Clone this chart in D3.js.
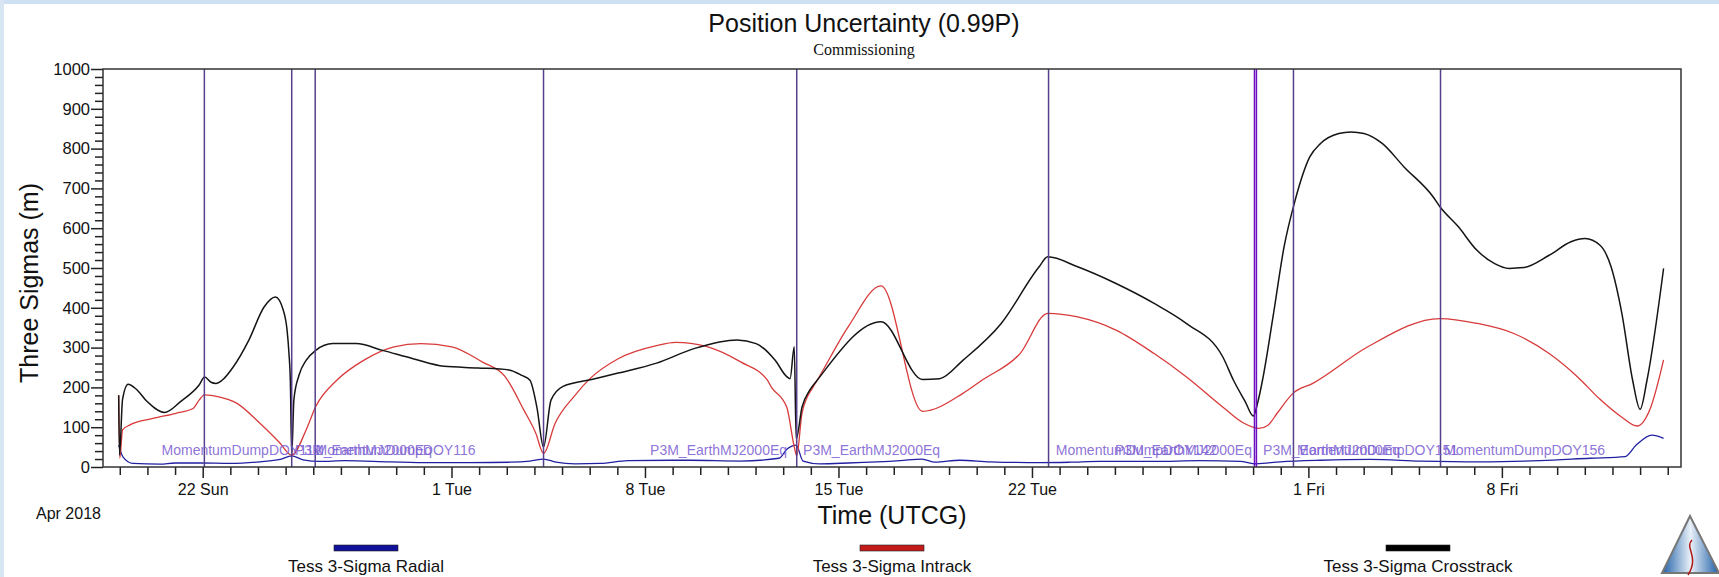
<!DOCTYPE html>
<html><head><meta charset="utf-8">
<script src="https://cdn.jsdelivr.net/npm/d3@7"></script>
<style>body{margin:0;background:#fff;overflow:hidden} svg{display:block}</style>
</head><body><svg id="c" width="1719" height="577"></svg>
<script>
// ---------------- DATA ----------------
// time = fractional day of April 2018 (31 = 1 May, 62 = 1 Jun)
const seriesNames = ["Tess 3-Sigma Radial", "Tess 3-Sigma Intrack", "Tess 3-Sigma Crosstrack"];

const radial = [
 [18.96,55],[19.12,25],[19.48,9],[20.46,7],[21.00,10],[21.90,10],[22.99,9],[24.07,13],[24.80,19],
 [25.22,28],[25.63,18],[26.24,14],[27.15,16],[28.78,13],[30.23,11],[31.67,11],[33.12,12],[33.84,15],
 [34.33,20],[34.78,12],[35.47,8],[36.38,9],[37.39,16],[39.63,17],[41.44,15],[42.85,22],[43.14,45],
 [43.47,55],[43.72,15],[44.33,8],[45.35,10],[47.23,16],[48.02,20],[48.49,12],[49.39,17],[50.48,13],
 [52.29,11],[53.37,12],[54.46,14],[56.42,14],[58.08,16],[59.53,14],[60.11,8],[60.98,13],[62.43,17],
 [64.24,19],[66.05,15],[68.22,13],[70.38,16],[72.19,22],[73.46,26],[73.86,55],[74.43,80],[74.85,72]
];

const intrack = [
 [18.96,180],[19.00,22],[19.10,93],[19.37,106],[20.20,122],[21.03,135],[21.65,147],[21.87,168],
 [22.07,181],[22.55,177],[23.24,160],[24.07,110],[24.76,63],[25.22,30],[25.74,93],[26.09,152],
 [26.85,218],[27.82,268],[28.92,302],[29.90,310],[31.01,302],[32.11,264],[32.94,227],[33.62,143],
 [34.05,85],[34.33,34],[34.75,110],[35.43,177],[36.01,222],[37.03,272],[38.42,305],[39.11,313],
 [40.21,303],[41.46,264],[42.43,218],[42.56,202],[43.13,150],[43.40,51],[43.49,28],[43.68,135],
 [44.09,202],[44.23,218],[45.35,352],[46.54,455],[48.04,140],[49.50,185],[50.19,218],[51.57,285],
 [52.57,386],[53.65,377],[55.04,344],[56.42,285],[57.58,227],[58.90,151],[59.67,110],[60.21,97],
 [60.54,105],[60.87,135],[61.44,185],[62.16,210],[64.15,302],[66.76,373],[68.09,361],[69.41,336],
 [70.71,285],[71.76,225],[72.55,170],[73.34,125],[73.89,103],[74.39,151],[74.85,269]
];

const crosstrack = [
 [18.96,180],[18.99,30],[19.10,170],[19.30,208],[19.59,196],[19.98,165],[20.62,137],[21.21,165],
 [21.87,206],[22.07,226],[22.30,213],[22.48,210],[22.70,218],[23.11,252],[23.67,319],[24.22,402],
 [24.63,427],[24.91,395],[25.05,345],[25.12,286],[25.17,218],[25.22,30],[25.30,170],[25.48,230],
 [25.74,268],[26.09,293],[26.71,310],[27.55,310],[28.51,293],[29.61,272],[30.73,253],[31.96,249],
 [33.08,244],[33.55,230],[33.84,218],[34.09,150],[34.33,50],[34.60,168],[35.02,202],[36.07,220],
 [37.03,236],[38.42,261],[39.80,298],[41.33,319],[42.02,310],[42.71,268],[43.13,227],[43.25,222],
 [43.40,302],[43.47,70],[43.68,150],[43.96,193],[44.23,218],[46.54,365],[48.04,220],[48.66,222],
 [49.50,268],[50.88,360],[52.26,503],[52.57,528],[53.65,503],[55.04,461],[56.42,411],[57.58,361],
 [58.90,277],[59.29,218],[59.71,165],[60.01,128],[60.16,160],[60.34,218],[60.74,386],[61.12,553],
 [61.52,670],[62.05,779],[62.44,813],[63.10,838],[63.54,842],[64.01,838],[64.67,813],[65.46,754],
 [66.51,679],[66.76,654],[67.42,604],[68.09,545],[68.74,511],[69.26,499],[69.79,501],[70.71,532],
 [71.50,566],[72.01,574],[72.55,557],[72.95,503],[73.34,386],[73.73,218],[74.00,145],[74.25,218],
 [74.85,499]
];

// event (attitude / momentum dump) markers
const eventDays = [22.06, 25.22, 26.07, 34.33, 43.49, 52.60, 60.05, 60.12, 61.46, 66.78];
const eventLabelText = ["MomentumDumpDOY112","P3M_EarthMJ2000Eq","MomentumDumpDOY116","P3M_EarthMJ2000Eq",
  "P3M_EarthMJ2000Eq","MomentumDumpDOY142","P3M_EarthMJ2000Eq","P3M_EarthMJ2000Eq","MomentumDumpDOY151","MomentumDumpDOY156"];
const eventLabelDay  = [20.51, 25.34, 26.08, 43.14, 43.72, 52.86, 59.96, 60.36, 61.59, 66.91];
const eventLabelSide = ["start","start","start","end","start","start","end","start","start","start"];

const domainDays = [18.393, 75.48];
const xMajorDays = [22, 31, 38, 45, 52, 62, 69];   // labelled days
const yTicks = d3.range(0, 1001, 100);
const yMinor = d3.range(0, 1001, 20);

const titleText = "Position Uncertainty (0.99P)";
const subtitleText = "Commissioning";
const xTitle = "Time (UTCG)";
const yTitle = "Three Sigmas (m)";
const epochText = "Apr 2018";

// ---------------- DRAW ----------------
const dayToDate = d => new Date(Date.UTC(2018, 2, 31) + d * 864e5);
const W = 1719, H = 577;
const m = {l: 103, r: 1681, t: 69, b: 467};
const svg = d3.select("#c");
const FONT = "Arial, 'Liberation Sans', sans-serif";

svg.append("rect").attr("width", W).attr("height", H).attr("fill", "#fff");
// window border hint
svg.append("rect").attr("x",0).attr("y",0).attr("width",W).attr("height",4).attr("fill","#cfe0f2");
svg.append("rect").attr("x",0).attr("y",0).attr("width",4).attr("height",H).attr("fill","#d8e6f4");

const x = d3.scaleUtc().domain(domainDays.map(dayToDate)).range([m.l, m.r]);
const y = d3.scaleLinear().domain([0, 1000]).range([m.b, m.t]);

svg.append("defs").append("clipPath").attr("id","clip")
  .append("rect").attr("x", m.l).attr("y", m.t).attr("width", m.r - m.l).attr("height", m.b - m.t);

// titles
svg.append("text").attr("x", 864).attr("y", 32).attr("text-anchor","middle")
  .attr("font-family", FONT).attr("font-size", 25).attr("fill","#111").text(titleText);
svg.append("text").attr("x", 864).attr("y", 55).attr("text-anchor","middle")
  .attr("font-family", "'Liberation Serif','Times New Roman',serif").attr("font-size", 16).attr("fill","#111").text(subtitleText);

// x axis
const majorSet = new Set(xMajorDays.map(d => +dayToDate(d)));
const allDays = d3.utcDay.range(dayToDate(19), dayToDate(75.1));
const xAxis = d3.axisBottom(x).tickValues(allDays).tickSize(8).tickPadding(9)
  .tickFormat(d => majorSet.has(+d) ? d3.utcFormat("%-d %a")(d) : "");
const gx = svg.append("g").attr("transform", `translate(0,${m.b})`).call(xAxis);
gx.select(".domain").remove();
gx.selectAll(".tick line").attr("stroke","#222").attr("stroke-width",1.5)
  .attr("y2", d => majorSet.has(+d) ? 11 : 8);
gx.selectAll(".tick text").attr("font-family", FONT).attr("font-size", 16).attr("fill","#111");

// y axis
const yAxis = d3.axisLeft(y).tickValues(yMinor).tickSize(8).tickPadding(6)
  .tickFormat(v => v % 100 === 0 ? v : "");
const gy = svg.append("g").attr("transform", `translate(${m.l},0)`).call(yAxis);
gy.select(".domain").remove();
gy.selectAll(".tick line").attr("stroke","#222").attr("stroke-width",1.5)
  .attr("x2", v => v % 100 === 0 ? -12 : -8);
gy.selectAll(".tick text").attr("font-family", FONT).attr("font-size", 16.5).attr("fill","#111").attr("x", -13);

// axis titles
svg.append("text").attr("transform", `translate(38,283) rotate(-90)`).attr("text-anchor","middle")
  .attr("font-family", FONT).attr("font-size", 25).attr("fill","#111").text(yTitle);
svg.append("text").attr("x", (m.l + m.r) / 2).attr("y", 524).attr("text-anchor","middle")
  .attr("font-family", FONT).attr("font-size", 25).attr("fill","#111").text(xTitle);
svg.append("text").attr("x", 36).attr("y", 519)
  .attr("font-family", FONT).attr("font-size", 16).attr("fill","#111").text(epochText);

// series
const colors = ["#2020a0", "#d83a3a", "#151515"];
const swatch = ["#10109a", "#c41a1a", "#000000"];
const line = d3.line().x(d => x(dayToDate(d[0]))).y(d => y(d[1])).curve(d3.curveMonotoneX);
const plot = svg.append("g").attr("clip-path","url(#clip)");
[radial, intrack, crosstrack].forEach((s, i) => {
  plot.append("path").datum(s).attr("d", line).attr("fill","none")
    .attr("stroke", colors[i]).attr("stroke-width", i === 2 ? 1.5 : 1.3);
});

// event lines
plot.selectAll("line.ev").data(eventDays).join("line").attr("class","ev")
  .attr("x1", d => x(dayToDate(d))).attr("x2", d => x(dayToDate(d)))
  .attr("y1", m.t).attr("y2", m.b)
  .attr("stroke", (d,i) => (i === 6 || i === 7) ? "#6a10c0" : "#56408e")
  .attr("stroke-width", 1.5);

// event labels
svg.selectAll("text.evl").data(eventLabelText).join("text").attr("class","evl")
  .attr("x", (d,i) => x(dayToDate(eventLabelDay[i])))
  .attr("y", 455)
  .attr("text-anchor", (d,i) => eventLabelSide[i])
  .attr("font-family", FONT).attr("font-size", 14).attr("fill", "#7f63d4").attr("fill-opacity", 0.9)
  .text(d => d);

// frame
svg.append("rect").attr("x", m.l).attr("y", m.t).attr("width", m.r - m.l).attr("height", m.b - m.t)
  .attr("fill","none").attr("stroke","#333").attr("stroke-width",1.5);

// legend
const legendCenters = [-526, 0, 526].map(o => (m.l + m.r) / 2 + o);
const lg = svg.selectAll("g.lg").data(seriesNames).join("g").attr("class","lg")
  .attr("transform", (d,i) => `translate(${legendCenters[i]},0)`);
lg.append("rect").attr("x", -32).attr("y", 545).attr("width", 64).attr("height", 6)
  .attr("fill", (d,i) => swatch[i]).attr("stroke", "#222").attr("stroke-width", 0.6);
lg.append("text").attr("x", 0).attr("y", 572).attr("text-anchor","middle")
  .attr("font-family", FONT).attr("font-size", 17).attr("fill","#111").text(d => d);

// logo (triangle emblem)
const defs = svg.select("defs");
const gr = defs.append("linearGradient").attr("id","lgG").attr("x1","0").attr("x2","1");
gr.append("stop").attr("offset","0").attr("stop-color","#1e5fa8");
gr.append("stop").attr("offset","0.5").attr("stop-color","#e8f0f8");
gr.append("stop").attr("offset","1").attr("stop-color","#1e5fa8");
svg.append("path").attr("d","M1690,516 L1662,573 L1719,573 Z").attr("fill","url(#lgG)")
  .attr("stroke","#777").attr("stroke-width",2);
svg.append("path").attr("d","M1692,540 C1684,548 1700,556 1688,575").attr("fill","none")
  .attr("stroke","#b01818").attr("stroke-width",1.5);
</script></body></html>
